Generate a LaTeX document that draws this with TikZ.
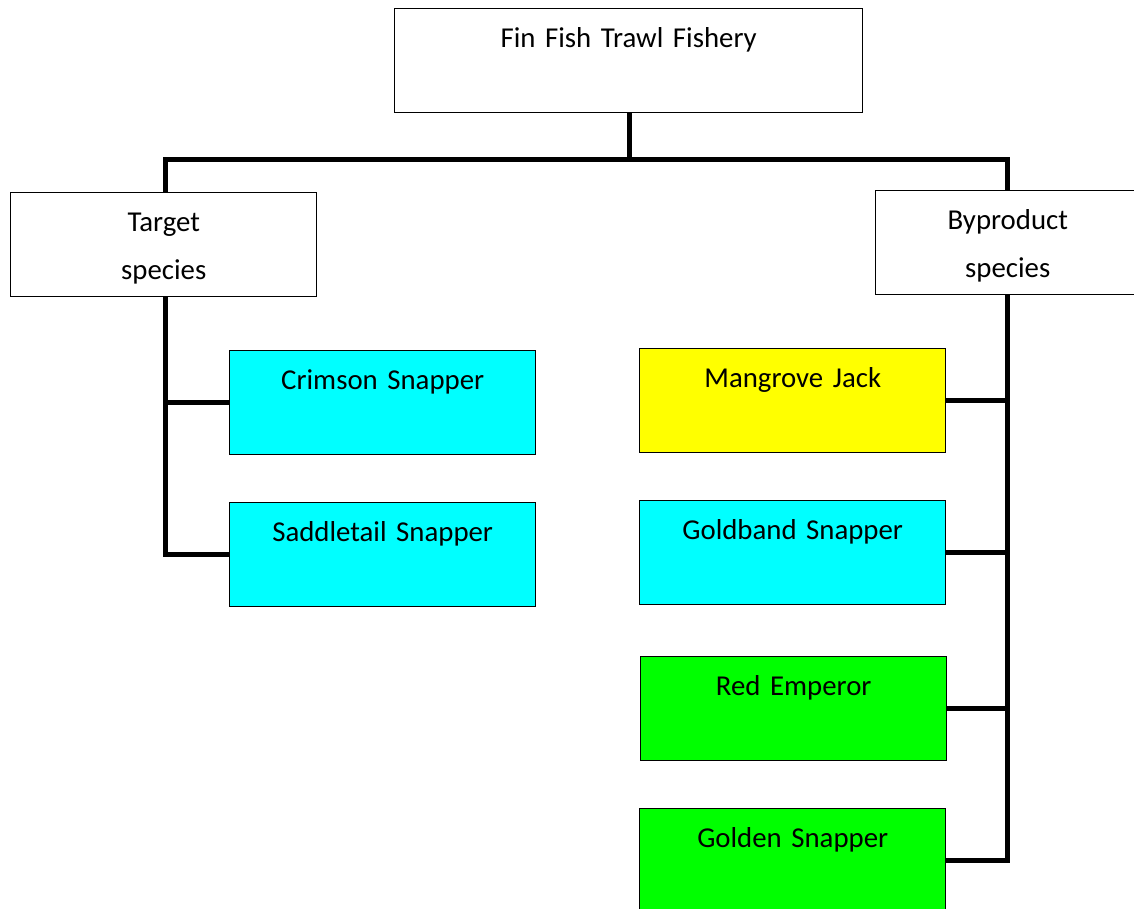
\documentclass[tikz,border=0pt]{standalone}
\usepackage{fontspec}
\setmainfont[WordSpace=0.8]{Carlito}
\begin{document}
% one coordinate unit = one pixel of the 1134 x 908 canvas, y downwards
\begin{tikzpicture}[x=0.75pt,y=-0.75pt,
  box/.style={draw=black, line width=1.1pt, inner sep=0pt, anchor=north west,
    align=center, text height=29.25pt, text depth=48.75pt,
    font=\fontsize{21.6}{36}\selectfont},
  wide/.style={box, text width=351pt},
  mid/.style={box, text width=229.5pt},
  narrow/.style={box, text width=198pt},
  cyanbox/.style={mid, fill={rgb,255:red,0;green,255;blue,255}},
  yellowbox/.style={mid, fill={rgb,255:red,255;green,255;blue,0}},
  greenbox/.style={mid, fill={rgb,255:red,0;green,255;blue,0}},
  link/.style={line width=3.75pt, line join=miter, draw=black}]
\useasboundingbox (0,0) rectangle (1134,908);
\clip (0,0) rectangle (1134,908);

% header and the two groups
\node[wide]   (fishery) at (394,8)   {Fin Fish Trawl Fishery};
\node[mid]    (target)  at (10,192)  {Target\\species};
\node[narrow] (byprod)  at (875,190) {Byproduct\\species};

% target species
\node[cyanbox] (crimson) at (229,350) {Crimson Snapper};
\node[cyanbox] (saddle)  at (229,502) {Saddletail Snapper};

% byproduct species
\node[yellowbox] (mangrove) at (639,348) {Mangrove Jack};
\node[cyanbox]   (goldband) at (639,500) {Goldband Snapper};
\node[greenbox]  (emperor)  at (640,656) {Red Emperor};
\node[greenbox]  (golden)   at (639,808) {Golden Snapper};

% bus bar joints
\coordinate (busL) at (165,159);
\coordinate (busM) at (629,159);
\coordinate (busR) at (1007,159);

% connectors
\draw[link] (busL |- target.north) -- (busL) -- (busR) -- (busR |- byprod.north);
\draw[link] (busM |- fishery.south) -- (busM);
\draw[link] (busL |- target.south) |- (saddle.west);
\draw[link] (crimson.west) -- (crimson.west -| busL);
\draw[link] (busR |- byprod.south) |- (golden.east);
\draw[link] (mangrove.east) -- (mangrove.east -| busR);
\draw[link] (goldband.east) -- (goldband.east -| busR);
\draw[link] (emperor.east) -- (emperor.east -| busR);
\end{tikzpicture}
\end{document}
